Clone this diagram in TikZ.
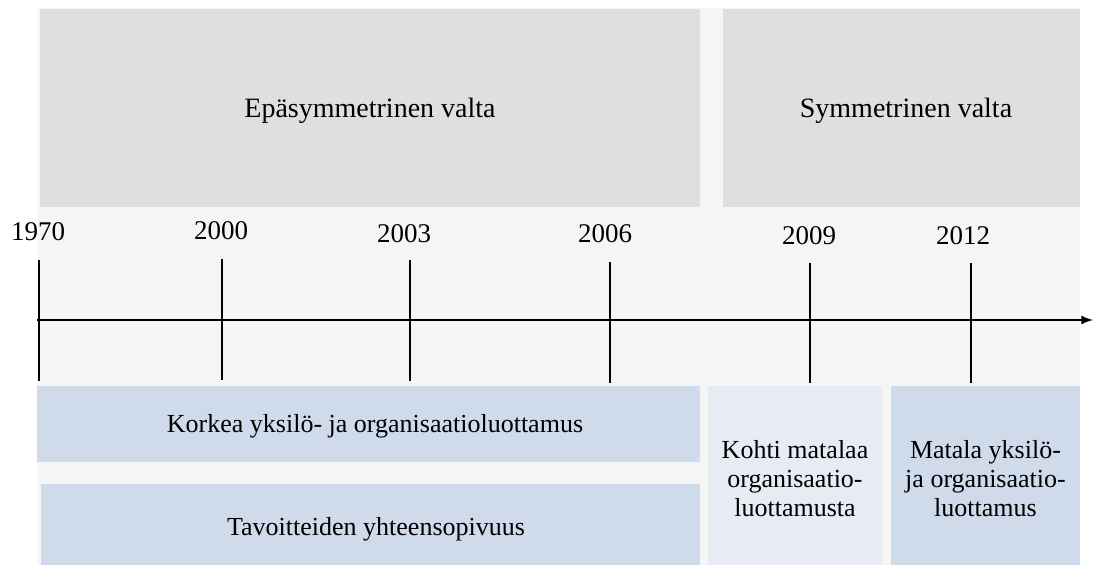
\documentclass[tikz,border=0pt]{standalone}
\usepackage{fontspec}
\setmainfont{Liberation Serif}
\usetikzlibrary{positioning}

\definecolor{bggray}{HTML}{F5F5F5}
\definecolor{topgray}{HTML}{DFDFDF}
\definecolor{boxblue}{HTML}{CFDAEB}
\definecolor{paleblue}{HTML}{E7EBF4}

\begin{document}
\begin{tikzpicture}[>=latex,x=0.5pt,y=-0.5pt,
  boxtext/.style={inner sep=0pt,align=center,font=\fontsize{13}{14.5}\selectfont},
  titletext/.style={inner sep=0pt,anchor=base,font=\fontsize{14}{16}\selectfont},
  year/.style={inner sep=0pt,font=\fontsize{13.5}{15}\selectfont},
  tick/.style={line width=1pt}]
 \useasboundingbox (0,0) rectangle (1093,565);
 \fill[bggray] (38,8) rectangle (1080,565);
  % upper boxes
  \fill[topgray] (40,9) rectangle (700,207);
  \fill[topgray] (723,9) rectangle (1080,207);
  \node[titletext] (asym) at (370,118) {Epäsymmetrinen valta};
  \node[titletext] (sym) at (906,118) {Symmetrinen valta};
  % lower boxes
  \fill[boxblue] (37,386) rectangle (700,462);
  \fill[boxblue] (41,484) rectangle (700,565);
  \fill[paleblue] (708,386) rectangle (882,565);
  \fill[boxblue] (891,386) rectangle (1080,565);
  \node[boxtext,anchor=base] (korkea) at (375,433) {Korkea yksilö- ja organisaatioluottamus};
  \node[boxtext,anchor=base] (tavoite) at (376,536) {Tavoitteiden yhteensopivuus};
  \node[boxtext] (kohti) at (795,478.5) {Kohti matalaa\\organisaatio-\\luottamusta};
  \node[boxtext] (matala) at (985.5,478.5) {Matala yksilö-\\ja organisaatio-\\luottamus};
  % time line
  \coordinate (axstart) at (37,320);
  \coordinate (axend) at (1093,320);
  \draw[tick,->] (axstart) -- (axend);
  \foreach \yr/\xp/\top/\bot/\lx/\ly in {1970/38.5/260/381/38/232,
      2000/222/259/380/221/231, 2003/410/260/381/404/234,
      2006/610/262/383/605/234, 2009/810/263/383/809/236,
      2012/971/263/383/963/236}{
    \draw[tick] (\xp,\top) -- (\xp,\bot);
    \node[year] (y\yr) at (\lx,\ly) {\yr};
  }
\end{tikzpicture}
\end{document}
